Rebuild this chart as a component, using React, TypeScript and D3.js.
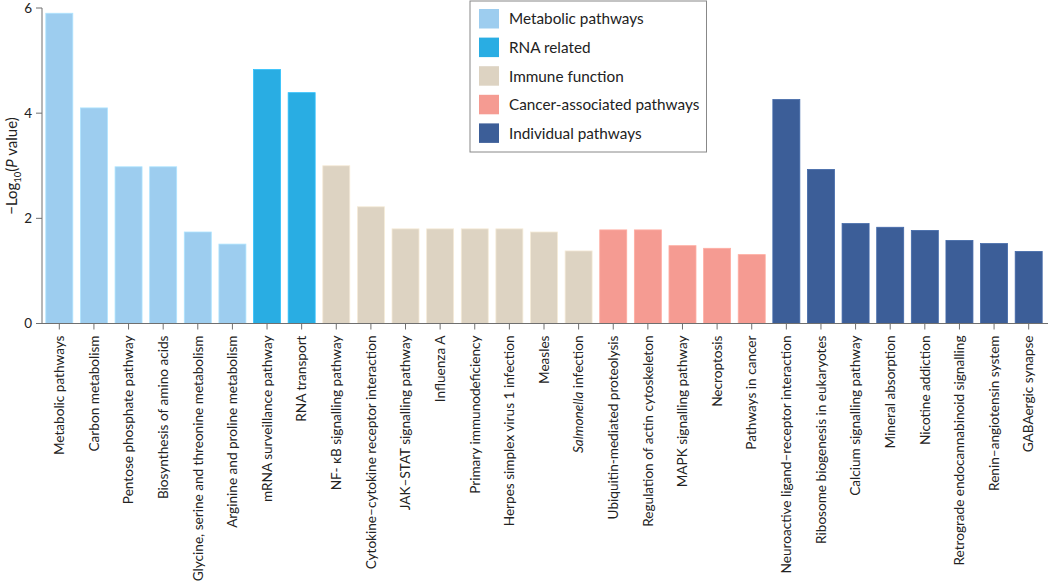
import React from "react";
import * as d3 from "d3";

const categories: string[] = [
  "Metabolic pathways",
  "Carbon metabolism",
  "Pentose phosphate pathway",
  "Biosynthesis of amino acids",
  "Glycine, serine and threonine metabolism",
  "Arginine and proline metabolism",
  "mRNA surveillance pathway",
  "RNA transport",
  "NF- κB signalling pathway",
  "Cytokine–cytokine receptor interaction",
  "JAK–STAT signalling pathway",
  "Influenza A",
  "Primary immunodeficiency",
  "Herpes simplex virus 1 infection",
  "Measles",
  "Salmonella infection",
  "Ubiquitin-mediated proteolysis",
  "Regulation of actin cytoskeleton",
  "MAPK signalling pathway",
  "Necroptosis",
  "Pathways in cancer",
  "Neuroactive ligand–receptor interaction",
  "Ribosome biogenesis in eukaryotes",
  "Calcium signalling pathway",
  "Mineral absorption",
  "Nicotine addiction",
  "Retrograde endocannabinoid signalling",
  "Renin–angiotensin system",
  "GABAergic synapse",
];

const values: number[] = [
  5.9, 4.1, 2.98, 2.98, 1.74, 1.51, 4.83, 4.39, 3.0, 2.22, 1.8, 1.8, 1.8, 1.8,
  1.74, 1.38, 1.78, 1.78, 1.48, 1.43, 1.31, 4.26, 2.93, 1.9, 1.83, 1.77, 1.58,
  1.52, 1.37,
];

const groups: string[] = [
  "Metabolic pathways", "Metabolic pathways", "Metabolic pathways", "Metabolic pathways",
  "Metabolic pathways", "Metabolic pathways",
  "RNA related", "RNA related",
  "Immune function", "Immune function", "Immune function", "Immune function",
  "Immune function", "Immune function", "Immune function", "Immune function",
  "Cancer-associated pathways", "Cancer-associated pathways", "Cancer-associated pathways",
  "Cancer-associated pathways", "Cancer-associated pathways",
  "Individual pathways", "Individual pathways", "Individual pathways", "Individual pathways",
  "Individual pathways", "Individual pathways", "Individual pathways", "Individual pathways",
];

const legendLabels: string[] = [
  "Metabolic pathways",
  "RNA related",
  "Immune function",
  "Cancer-associated pathways",
  "Individual pathways",
];
const legendColors: string[] = ["#9dcdef", "#29ade3", "#ddd3c2", "#f59b92", "#3c5e98"];
const yTicks: number[] = [0, 2, 4, 6];

const W = 1050;
const H = 583;
const FONT = "Lato, 'Noto Sans', sans-serif";

export default function App() {
  const x = d3
    .scaleBand<string>()
    .domain(categories)
    .range([42, 1046])
    .paddingInner(0.22)
    .paddingOuter(0.11);
  const y = d3.scaleLinear().domain([0, 6]).range([323.5, 8]);
  const color = d3.scaleOrdinal<string, string>().domain(legendLabels).range(legendColors);

  return (
    <svg
      width={W}
      height={H}
      style={{ position: "absolute", left: 0, top: 0, background: "#fff" }}
      fontFamily={FONT}
    >
      {/* bars */}
      {categories.map((c, i) => (
        <rect
          key={c}
          x={x(c)}
          y={y(values[i])}
          width={x.bandwidth()}
          height={y(0) - y(values[i])}
          fill={color(groups[i])}
          stroke={d3.color(color(groups[i]))!.brighter(0.3).toString()}
          strokeWidth={0.8}
        />
      ))}

      {/* y axis */}
      <line x1={42} x2={42} y1={y(6)} y2={y(0)} stroke="#6f6f6f" strokeWidth={1} />
      {yTicks.map((t) => (
        <g key={t} transform={`translate(0,${y(t)})`}>
          <line x1={36} x2={42} stroke="#6f6f6f" strokeWidth={1} />
          <text x={32} dy="0.35em" textAnchor="end" fontSize={13.5} fill="#222">
            {t}
          </text>
        </g>
      ))}
      <text
        transform={`translate(17,166) rotate(-90)`}
        textAnchor="middle"
        fontSize={15}
        fill="#222"
      >
        −Log
        <tspan fontSize={9.5} dy={4}>10</tspan>
        <tspan dy={-4}>(</tspan>
        <tspan fontStyle="italic">P</tspan>
        <tspan> value)</tspan>
      </text>

      {/* x axis */}
      <line x1={42} x2={1048} y1={y(0)} y2={y(0)} stroke="#6f6f6f" strokeWidth={1} />
      {categories.map((c) => {
        const cx = (x(c) ?? 0) + x.bandwidth() / 2;
        return (
          <g key={c} transform={`translate(${cx},${y(0)})`}>
            <line y1={0} y2={6} stroke="#6f6f6f" strokeWidth={1} />
            <text
              transform="translate(0,12) rotate(-90)"
              textAnchor="end"
              dy="0.35em"
              fontSize={13.6}
              fill="#222"
            >
              {c === "Salmonella infection" ? (
                <>
                  <tspan fontStyle="italic">Salmonella</tspan>
                  <tspan> infection</tspan>
                </>
              ) : (
                c
              )}
            </text>
          </g>
        );
      })}

      {/* legend */}
      <rect x={470} y={1} width={236.5} height={151} fill="#fff" stroke="#888" strokeWidth={1} />
      {legendLabels.map((l, i) => (
        <g key={l} transform={`translate(479,${9 + i * 28.6})`}>
          <rect width={20} height={19.5} fill={legendColors[i]} />
          <text x={30} y={10} dy="0.35em" fontSize={15.3} fill="#222">
            {l}
          </text>
        </g>
      ))}
    </svg>
  );
}
